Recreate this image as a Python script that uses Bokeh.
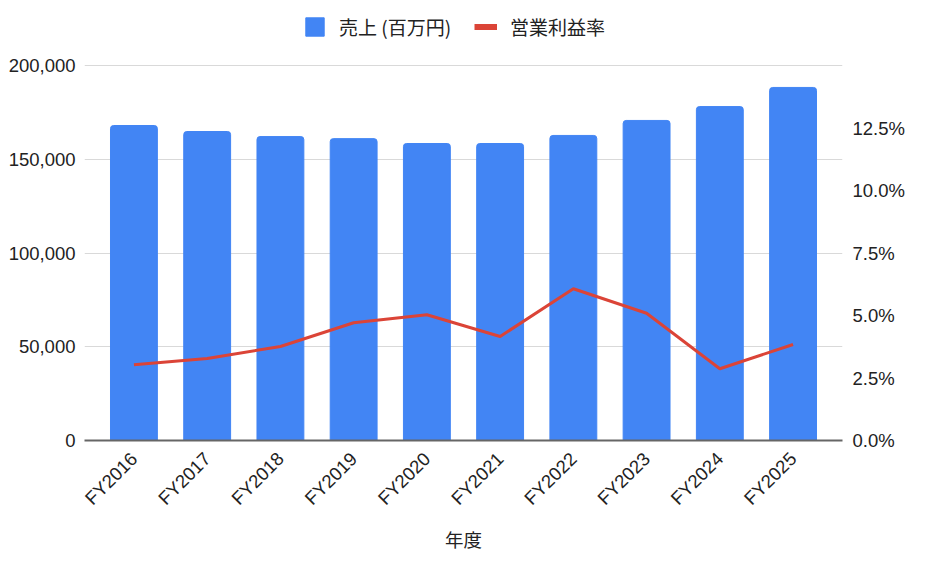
import math
from bokeh.plotting import figure
from bokeh.models import (Range1d, LinearAxis, FixedTicker, NumeralTickFormatter,
                          Legend, LegendItem, FactorRange, ColumnDataSource)
from bokeh.embed import file_html
from bokeh.resources import INLINE

years = ["FY2016", "FY2017", "FY2018", "FY2019", "FY2020",
         "FY2021", "FY2022", "FY2023", "FY2024", "FY2025"]
sales = [168000, 164800, 162100, 161000, 158400, 158400, 162700, 170700, 178100, 188300]
margin_pct = [3.03, 3.28, 3.76, 4.71, 5.03, 4.16, 6.07, 5.09, 2.87, 3.84]
left_ticks = [0, 50000, 100000, 150000, 200000]
right_ticks = [0.0, 0.025, 0.05, 0.075, 0.10, 0.125]

src = ColumnDataSource(dict(year=years, sales=sales,
                            margin=[m / 100.0 for m in margin_pct]))
# legend-only swatch source (NaN value: nothing is drawn in the plot)
legend_src = ColumnDataSource(dict(year=[years[0]], margin=[float("nan")]))

FONT = "Liberation Sans"
CJK = "Noto Sans CJK JP"
FS = "18.5px"

# frame spans 5..440 px vertically; the tick region 0..200000 covers 65..440
p = figure(x_range=FactorRange(*years, range_padding=0.035),
           y_range=Range1d(0, 232000),
           width=920, height=560, output_backend="svg", toolbar_location=None,
           min_border_left=84, min_border_right=78, min_border_top=5,
           min_border_bottom=120)
p.extra_y_ranges = {"pct": Range1d(0, 0.174)}
p.outline_line_color = None

bars = p.vbar(x="year", top="sales", width=0.64, color="#4285F4", source=src,
              border_radius=(3, 3, 0, 0))
line = p.line(x="year", y="margin", y_range_name="pct", line_color="#DB4437",
              line_width=3, source=src)
legend_line = p.line(x="year", y="margin", y_range_name="pct", line_color="#DB4437",
                     line_width=6, source=legend_src)

# left axis
ya = p.yaxis[0]
ya.ticker = FixedTicker(ticks=left_ticks)
ya.formatter = NumeralTickFormatter(format="0,0")
ya.axis_line_color = None
ya.major_tick_line_color = None
ya.minor_tick_line_color = None
ya.major_tick_out = 0
ya.major_tick_in = 0
ya.major_label_standoff = 9
ya.major_label_text_font = FONT
ya.major_label_text_font_size = FS
ya.major_label_text_color = "#222222"

# right axis
ra = LinearAxis(y_range_name="pct", ticker=FixedTicker(ticks=right_ticks),
                formatter=NumeralTickFormatter(format="0.0%"))
ra.axis_line_color = None
ra.major_tick_line_color = None
ra.minor_tick_line_color = None
ra.major_tick_out = 0
ra.major_tick_in = 0
ra.major_label_standoff = 10
ra.major_label_text_font = FONT
ra.major_label_text_font_size = FS
ra.major_label_text_color = "#222222"
p.add_layout(ra, "right")

# x axis
xa = p.xaxis[0]
xa.axis_line_color = "#666666"
xa.axis_line_width = 2
xa.major_tick_line_color = None
xa.minor_tick_line_color = None
xa.major_tick_out = 0
xa.major_tick_in = 0
xa.major_label_orientation = math.pi / 4
xa.major_label_text_font = FONT
xa.major_label_text_font_size = FS
xa.major_label_text_color = "#222222"
xa.major_label_standoff = 15
xa.axis_label = "年度"
xa.axis_label_text_font = CJK
xa.axis_label_text_font_size = FS
xa.axis_label_text_font_style = "normal"
xa.axis_label_text_color = "#222222"
xa.axis_label_standoff = 7

p.xgrid.grid_line_color = None
p.ygrid.grid_line_color = "#d9d9d9"
p.ygrid.grid_line_width = 1

legend = Legend(items=[LegendItem(label="売上 (百万円)", renderers=[bars]),
                       LegendItem(label="営業利益率", renderers=[legend_line])],
                orientation="horizontal", location=(219, 400),
                border_line_color=None, background_fill_alpha=0,
                label_text_font=CJK, label_text_font_size="19px",
                label_text_color="#222222",
                glyph_width=23, glyph_height=23, spacing=23,
                label_standoff=13, padding=4, margin=0)
p.add_layout(legend, "center")

open("out.html", "w").write(file_html(p, INLINE))
